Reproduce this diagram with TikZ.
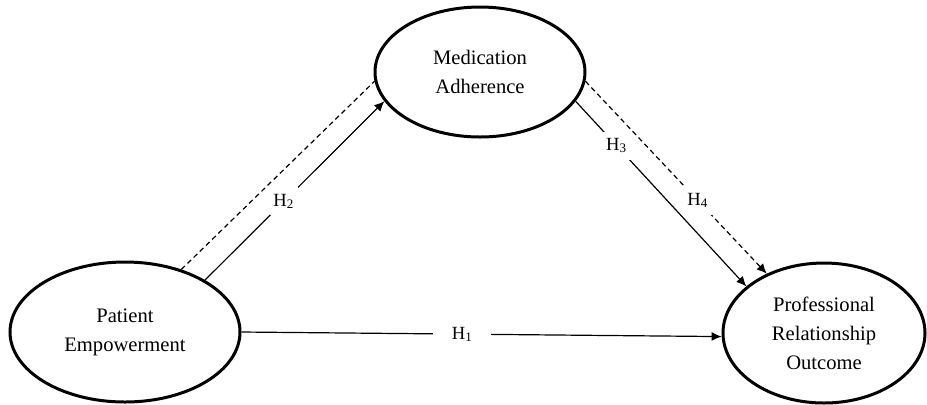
\documentclass[tikz,border=0pt]{standalone}
\usepackage{fontspec}
\setmainfont{Liberation Serif}
\usepackage{tikz}
\usetikzlibrary{arrows.meta,shapes,positioning,calc}

\begin{document}
\begin{tikzpicture}[x=0.5pt, y=-0.5pt,
    construct/.style={ellipse, draw=black, line width=1.5pt, fill=white, inner sep=0pt,
                      align=center, font=\fontsize{10.3}{14.5}\selectfont},
    hyp/.style={line width=0.6pt, -{Latex[length=5pt,width=4.5pt]}},
    tag/.style={fill=white, inner sep=0pt, minimum width=14pt, minimum height=14pt,
                font=\fontsize{9.3}{11}\selectfont}
  ]
    \useasboundingbox (0,0) rectangle (927,404);

    \node[construct, minimum width=115pt, minimum height=70pt] (pe) at (125, 332) {Patient\\Empowerment};
    \node[construct, minimum width=105pt, minimum height=65pt] (ma) at (480, 72) {Medication\\Adherence};
    \node[construct, minimum width=101pt, minimum height=70pt] (pro) at (824, 333) {Professional\\Relationship\\Outcome};

    \draw[line width=0.6pt, dash pattern=on 2.5pt off 1.8pt] (pe.48) -- (ma.185);
    \draw[hyp] (pe.33) -- node[tag, pos=.44] {H\textsubscript{2}} (ma.197);
    \draw[hyp] (ma.-17) -- node[tag, pos=.24] {H\textsubscript{3}} (pro.149);
    \draw[hyp, dash pattern=on 2.5pt off 1.8pt] (ma.-5) -- node[tag, pos=.62] {H\textsubscript{4}} (pro.134);
    \draw[hyp] (pe.0) -- node[tag, pos=.46, minimum width=29pt] {H\textsubscript{1}} (pro.182);
  \end{tikzpicture}
\end{document}
